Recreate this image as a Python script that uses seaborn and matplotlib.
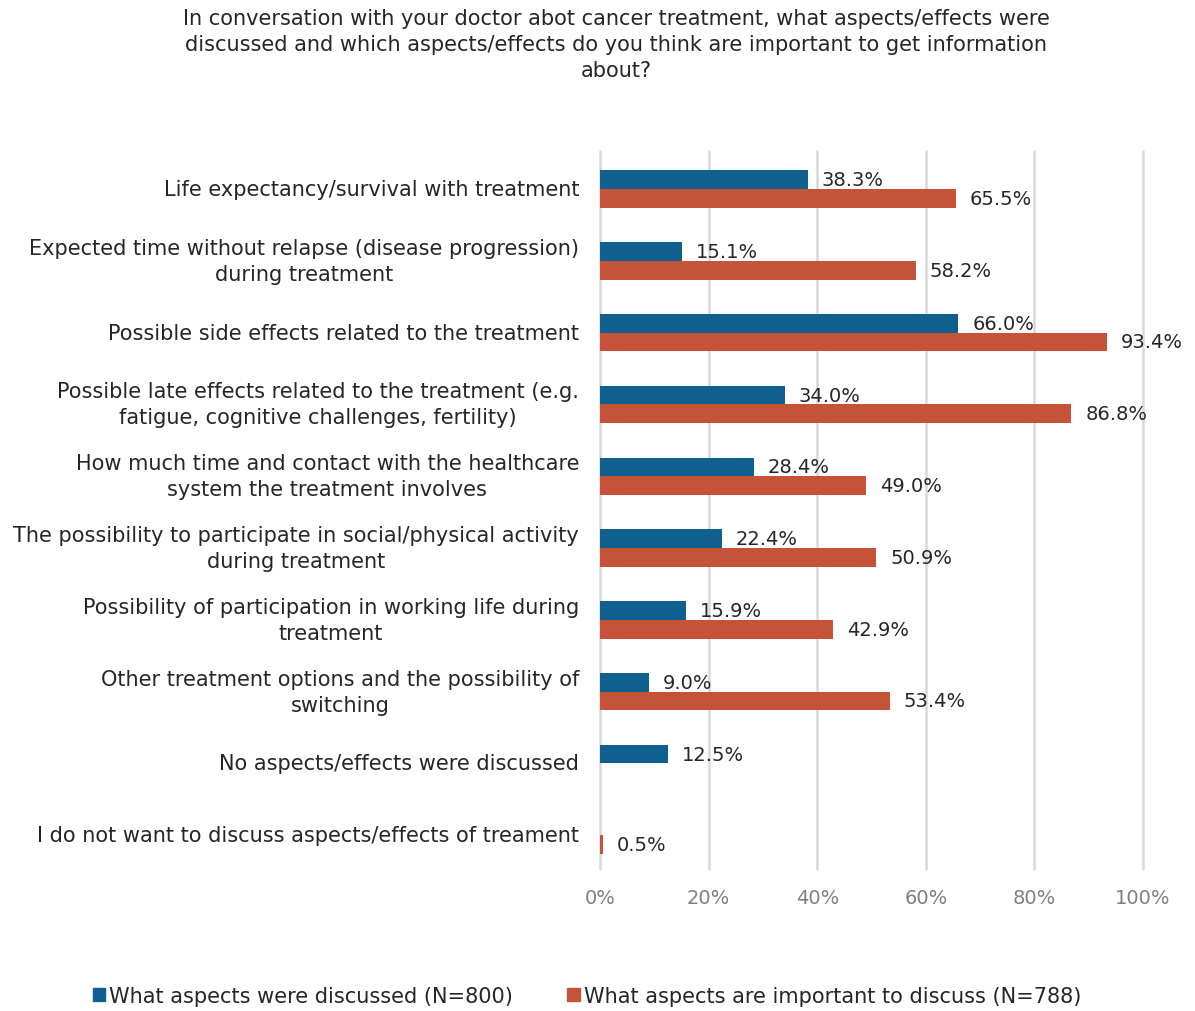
import numpy as np
import pandas as pd
import matplotlib
matplotlib.use("Agg")
import matplotlib.pyplot as plt
import seaborn as sns

categories = [
    "Life expectancy/survival with treatment",
    "Expected time without relapse (disease progression)\nduring treatment",
    "Possible side effects related to the treatment",
    "Possible late effects related to the treatment (e.g.\nfatigue, cognitive challenges, fertility)",
    "How much time and contact with the healthcare\nsystem the treatment involves",
    "The possibility to participate in social/physical activity\nduring treatment",
    "Possibility of participation in working life during\ntreatment",
    "Other treatment options and the possibility of\nswitching",
    "No aspects/effects were discussed",
    "I do not want to discuss aspects/effects of treament",
]
discussed = [38.3, 15.1, 66.0, 34.0, 28.4, 22.4, 15.9, 9.0, 12.5, np.nan]
important = [65.5, 58.2, 93.4, 86.8, 49.0, 50.9, 42.9, 53.4, np.nan, 0.5]
series_names = ["What aspects were discussed (N=800)",
                "What aspects are important to discuss (N=788)"]
x_ticks = [0, 20, 40, 60, 80, 100]
title = ("In conversation with your doctor abot cancer treatment, what aspects/effects were\n"
         "discussed and which aspects/effects do you think are important to get information\n"
         "about?")

colors = ["#10608F", "#C4533A"]

df = pd.DataFrame({
    "category": categories * 2,
    "value": discussed + important,
    "series": [series_names[0]] * len(categories) + [series_names[1]] * len(categories),
})

sns.set_theme(style="white")
plt.rcParams["font.family"] = ["DejaVu Sans"]

fig = plt.figure(figsize=(11.95, 10.12), dpi=100)
ax = fig.add_axes([600 / 1195, 1 - 870 / 1012, 543 / 1195, 718 / 1012])

sns.barplot(data=df, y="category", x="value", hue="series", order=categories,
            hue_order=series_names, palette=colors, orient="h", width=0.52,
            ax=ax, legend=False, saturation=1, linewidth=0, zorder=3)

for cont in ax.containers:
    ax.bar_label(cont, fmt="{:.1f}%", padding=10, fontsize=14, color="#262626")

ax.set_xlim(0, 100)
ax.set_ylim(9.47, -0.53)
ax.set_xticks(x_ticks)
ax.set_xticklabels([f"{t}%" for t in x_ticks])
ax.set_xlabel("")
ax.set_ylabel("")
ax.grid(axis="x", color="#D9D9D9", linewidth=1.8, zorder=0)
ax.grid(axis="y", visible=False)
for gl in ax.get_xgridlines():
    gl.set_clip_on(False)
for s in ax.spines.values():
    s.set_visible(False)
ax.tick_params(axis="x", length=0, pad=14, labelsize=14, labelcolor="#7F7F7F")
ax.tick_params(axis="y", length=0, pad=15, labelsize=15, labelcolor="#262626")
for lbl in ax.get_yticklabels():
    lbl.set_horizontalalignment("right")
    lbl.set_verticalalignment("center")
    lbl.set_multialignment("center")
    lbl.set_linespacing(1.38)

fig.text(616 / 1195, 1 - 9 / 1012, title, ha="center", va="top", fontsize=15,
         color="#262626", linespacing=1.38)

handles = [plt.Rectangle((0, 0), 1, 1, color=c) for c in colors]
fig.legend(handles, series_names, loc="center", bbox_to_anchor=(587 / 1195, 1 - 997 / 1012),
           ncol=2, frameon=False, fontsize=15, handlelength=0.6, handleheight=0.6,
           handletextpad=0.2, columnspacing=2.6, labelcolor="#262626")

fig.savefig("out.png", dpi=100)
